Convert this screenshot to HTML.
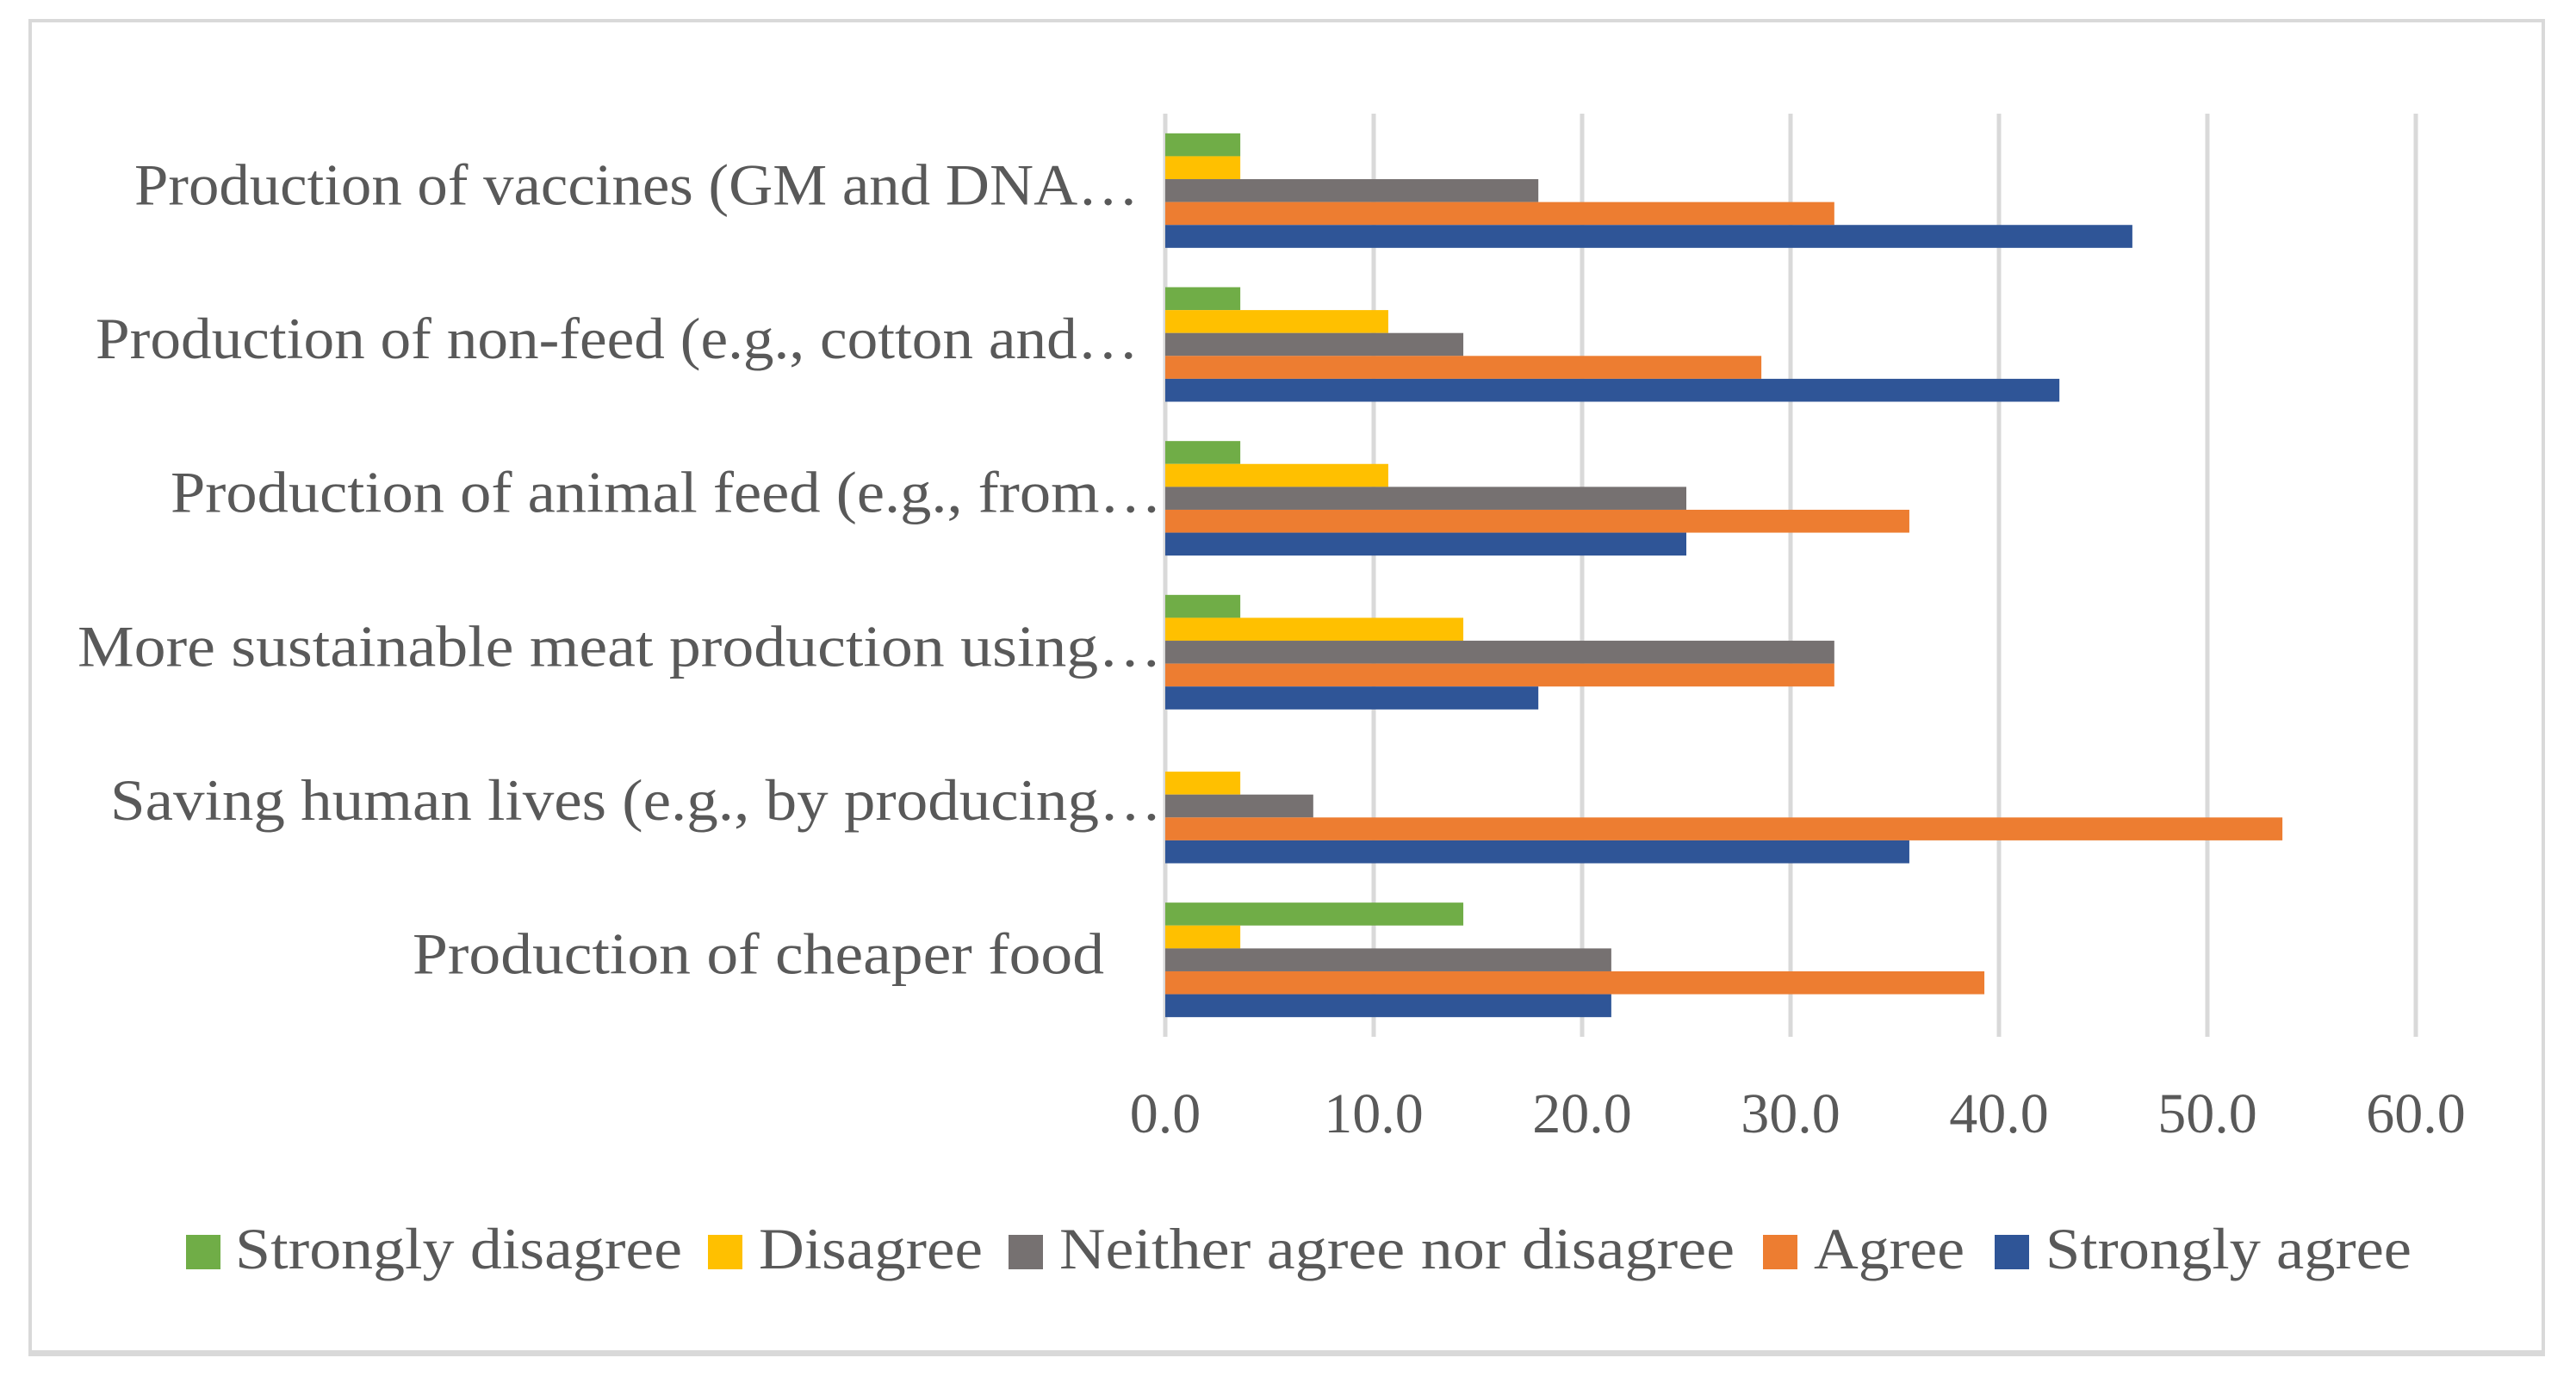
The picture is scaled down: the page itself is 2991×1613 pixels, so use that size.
<!DOCTYPE html>
<html><head><meta charset="utf-8"><style>
html,body{margin:0;padding:0;background:#fff;}
svg{display:block;}
text{font-family:"Liberation Serif",serif;fill:#595959;}
</style></head><body>
<svg id="chart" width="2991" height="1613" viewBox="0 0 2991 1613" xmlns="http://www.w3.org/2000/svg">
<rect x="35" y="24" width="2918" height="1546" fill="#fff" stroke="#d9d9d9" stroke-width="4"/>
<rect x="33" y="1568" width="2922" height="7" fill="#d9d9d9"/>
<g id="grid"></g>
<g id="bars"></g>
<g id="cats"></g>
<g id="ticks"></g>
<g id="legend"></g>
</svg>
<script>
const categories = ["Production of vaccines (GM and DNA…","Production of non-feed (e.g., cotton and…","Production of animal feed (e.g., from…","More sustainable meat production using…","Saving human lives (e.g., by producing…","Production of cheaper food "];
const seriesNames = ["Strongly disagree","Disagree","Neither agree nor disagree","Agree","Strongly agree"];
const stronglyDisagree = [3.6,3.6,3.6,3.6,0,14.3];
const disagree = [3.6,10.7,10.7,14.3,3.6,3.6];
const neither = [17.9,14.3,25.0,32.1,7.1,21.4];
const agree = [32.1,28.6,35.7,32.1,53.6,39.3];
const stronglyAgree = [46.4,42.9,25.0,17.9,35.7,21.4];
const tickValues = [0,10,20,30,40,50,60];
const tickLabels = ["0.0","10.0","20.0","30.0","40.0","50.0","60.0"];

const NS="http://www.w3.org/2000/svg";
const colors=["#70ad47","#ffc000","#767171","#ed7d31","#2f5597"];
const series=[stronglyDisagree,disagree,neither,agree,stronglyAgree];
const x0=1353,x1=2805,xMax=60,plotTop=132,plotBot=1204;
const xs=v=>x0+(v/xMax)*(x1-x0);
const band=(plotBot-plotTop)/categories.length;
const barH=26.6;
function mk(tag,attrs,parent){const e=document.createElementNS(NS,tag);for(const k in attrs)e.setAttribute(k,attrs[k]);document.getElementById(parent).appendChild(e);return e;}

tickValues.forEach((v,i)=>{
  const g=mk("line",{x1:xs(v),x2:xs(v),y1:plotTop,y2:plotBot,stroke:"#d9d9d9","stroke-width":5},"grid");
  
  
  const t=mk("text",{x:xs(v),y:1315,"font-size":66,"text-anchor":"middle"},"ticks");
  t.textContent=tickLabels[i];
  
  
});

const labelPos=[[156,1322],[111,1322],[198,1349],[90,1349],[128,1349],[479,1282]];
categories.forEach((c,ci)=>{
  const gTop=plotTop+band*ci;
  const start=gTop+(band-5*barH)/2;
  series.forEach((s,si)=>{
    const r=mk("rect",{x:xs(0),y:start+si*barH,width:Math.max(0,xs(s[ci])-xs(0)),height:barH,fill:colors[si]},"bars");
    
    
  });
  const lp=labelPos[ci];
  const t=mk("text",{x:lp[0],y:gTop+band/2+16,"font-size":68,textLength:lp[1]-lp[0],lengthAdjust:"spacingAndGlyphs"},"cats");
  t.textContent=c;
  
  
});

const legendPos=[[216,273,792],[822,881,1141],[1171,1230,2014],[2047,2106,2281],[2316,2375,2800]];
seriesNames.forEach((n,i)=>{
  const p=legendPos[i];
  const m=mk("rect",{x:p[0],y:1434,width:40,height:40,fill:colors[i]},"legend");
  
  
  const t=mk("text",{x:p[1],y:1473,"font-size":68,textLength:p[2]-p[1],lengthAdjust:"spacingAndGlyphs"},"legend");
  t.textContent=n;
  
  
});
</script>
</body></html>
